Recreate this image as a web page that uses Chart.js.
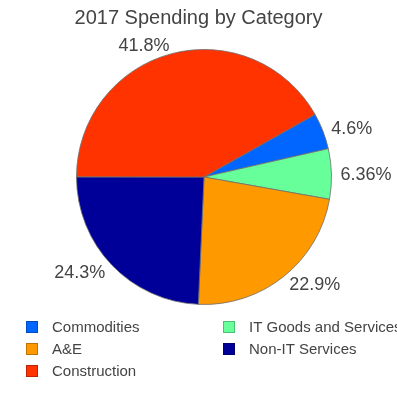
<!DOCTYPE html>
<html>
<head>
<meta charset="utf-8">
<script src="https://cdn.jsdelivr.net/npm/chart.js@4"></script>
<style>
  html, body { margin: 0; padding: 0; background: #fff; }
  #wrap { width: 397px; height: 400px; }
</style>
</head>
<body>
<div id="wrap"><canvas id="pie"></canvas></div>
<script>
'use strict'

const categories = ["Commodities", "IT Goods and Services", "A&E", "Non-IT Services", "Construction"]
const shares = [4.6, 6.36, 22.9, 24.3, 41.8]
const shareLabels = ["4.6%", "6.36%", "22.9%", "24.3%", "41.8%"]
const colors = ["#0066ff", "#66ff99", "#ff9900", "#000099", "#ff3300"]
const chartTitle = "2017 Spending by Category"

const textColor = "#444444"
const fontFamily = "'Liberation Sans', Arial, sans-serif"

// title centred on the whole canvas (the pie itself sits a bit right of centre)
const canvasTitle = {
    id: 'canvasTitle',
    afterDraw(chart) {
        const ctx = chart.ctx
        ctx.save()
        ctx.font = `20px ${fontFamily}`
        ctx.fillStyle = textColor
        ctx.textAlign = "center"
        ctx.textBaseline = "middle"
        ctx.fillText(chartTitle, chart.width / 2, 18)
        ctx.restore()
    }
}

// percent labels just outside each slice
const outerLabels = {
    id: 'outerLabels',
    afterDatasetsDraw(chart) {
        const ctx = chart.ctx
        const meta = chart.getDatasetMeta(0)
        ctx.save()
        ctx.font = `18px ${fontFamily}`
        ctx.fillStyle = textColor
        ctx.textBaseline = "middle"
        meta.data.forEach((arc, i) => {
            const mid = (arc.startAngle + arc.endAngle) / 2
            const r = arc.outerRadius + 9
            const x = arc.x + Math.cos(mid) * r
            const y = arc.y + Math.sin(mid) * r + 1.5
            ctx.textAlign = Math.cos(mid) >= 0 ? "left" : "right"
            ctx.fillText(shareLabels[i], x, y)
        })
        ctx.restore()
    }
}

// two column legend at the bottom
const gridLegend = {
    id: 'gridLegend',
    afterDraw(chart) {
        const ctx = chart.ctx
        ctx.save()
        ctx.font = `15px ${fontFamily}`
        ctx.textBaseline = "middle"
        ctx.textAlign = "left"
        categories.forEach((name, i) => {
            const col = i % 2
            const row = Math.floor(i / 2)
            const x = col === 0 ? 26 : 223
            const y = 327 + row * 22
            ctx.fillStyle = colors[i]
            ctx.fillRect(x, y - 6, 12, 12)
            ctx.strokeStyle = "rgba(0,0,0,0.25)"
            ctx.lineWidth = 1
            ctx.strokeRect(x + 0.5, y - 5.5, 11, 11)
            ctx.fillStyle = textColor
            ctx.fillText(name, x + 26, y + 1)
        })
        ctx.restore()
    }
}

new Chart(document.getElementById('pie'), {
    type: 'pie',
    data: {
        labels: categories,
        datasets: [{
            data: shares,
            backgroundColor: colors,
            borderColor: "rgba(110,110,110,0.8)",
            borderWidth: 1
        }]
    },
    options: {
        responsive: true,
        maintainAspectRatio: false,
        animation: false,
        rotation: 60.6,
        layout: {
            padding: { top: 49, bottom: 95, left: 76, right: 65 }
        },
        plugins: {
            legend: { display: false },
            tooltip: { enabled: false },
            title: { display: false }
        }
    },
    plugins: [canvasTitle, outerLabels, gridLegend]
})
</script>
</body>
</html>
